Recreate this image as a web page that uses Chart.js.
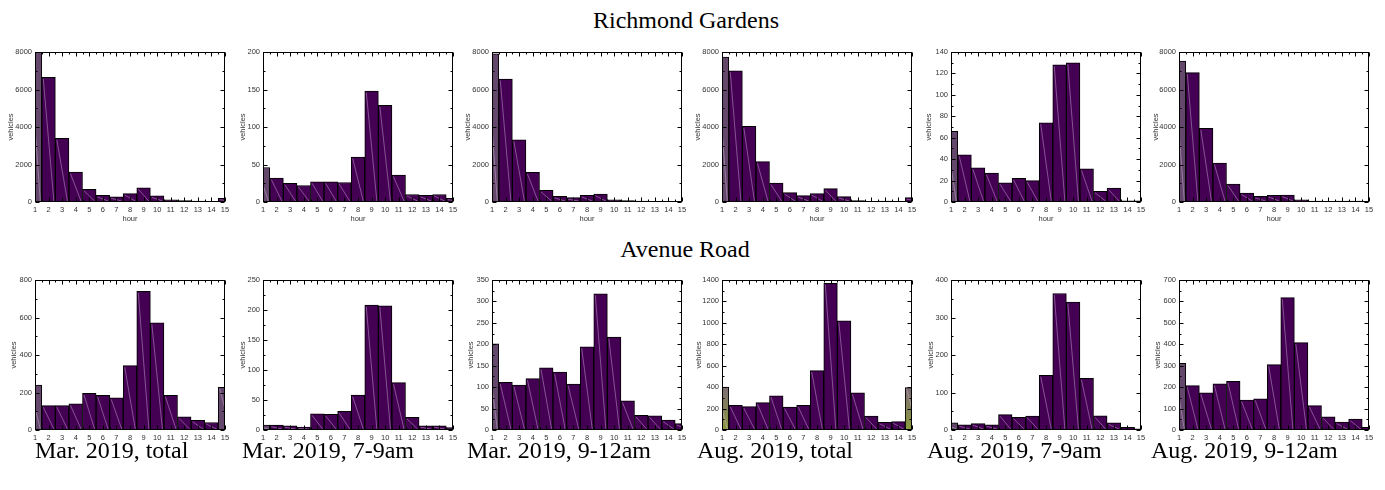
<!DOCTYPE html>
<html><head><meta charset="utf-8">
<script src="https://cdn.jsdelivr.net/npm/chart.js@4.4.0/dist/chart.umd.min.js"></script>
<style>
html,body{margin:0;padding:0;background:#fff;}
body{width:1385px;height:490px;position:relative;overflow:hidden;}
canvas{position:absolute;}
.t{position:absolute;font-family:'Liberation Serif','Times New Roman',serif;font-size:24px;color:#000;white-space:nowrap;line-height:24px;}
.c{transform:translate(-50%,-50%);}
.b{background:#fff;padding-right:4px;line-height:12px;height:12px;}
</style></head><body>
<script>
// ---------- data ----------
const hours = [1,2,3,4,5,6,7,8,9,10,11,12,13,14,15];
const rowTitles = ['Richmond Gardens', 'Avenue Road'];
const columnLabels = ['Mar. 2019, total','Mar. 2019, 7-9am','Mar. 2019, 9-12am','Aug. 2019, total','Aug. 2019, 7-9am','Aug. 2019, 9-12am'];

const rgMarTotal = [8000,6650,3400,1600,680,350,280,450,760,330,110,70,50,40,200];
const rgMar79    = [46,32,25,22,27,27,26,60,148,129,36,10,9,10,5];
const rgMar912   = [7900,6560,3320,1580,620,300,230,350,420,120,70,50,30,30,30];
const rgAugTotal = [7730,7000,4030,2150,1010,500,340,450,710,290,70,40,50,40,230];
const rgAug79    = [66,44,32,27,18,22,20,74,128,130,31,10,13,1,1];
const rgAug912   = [7520,6900,3930,2080,960,480,300,350,370,120,50,40,50,50,20];

const arMarTotal = [240,130,130,140,195,185,172,343,740,572,185,70,52,40,228];
const arMar79    = [8,8,7,5,27,26,31,58,208,207,79,21,7,7,4];
const arMar912   = [201,111,105,120,145,135,107,194,318,217,68,34,33,23,15];
const arAugTotal = [401,230,218,255,320,215,230,554,1370,1020,348,130,72,78,395];
const arAug79    = [19,14,17,14,41,34,37,146,364,341,138,38,19,7,3];
const arAug912   = [311,207,174,215,227,140,146,305,618,408,114,62,37,51,12];

// y-axis tick ranges
const yMaxRG  = [8000,200,8000,8000,140,8000];
const yStepRG = [2000,50,2000,2000,20,2000];
const yMaxAR  = [800,250,350,1400,400,700];
const yStepAR = [200,50,50,200,100,100];

// ---------- layout / style ----------
const plotLefts = [35,263,492,722,951,1179];
const plotWidth = 190;
const rowTops = [52,280];
const plotHeight = 150;
const vehiclesX = [[10,242,467,697,928,1155],[13,242,470,698,930,1157]];
const rowTitlePos = [[686,20],[685,249]];
const colLabelX = [35,242,467,697,927,1151];
const colLabelTop = 444;
const BAR = '#440154';
const EDGE = '#64486c';
const highlightRG = [[0],[0],[0],[0],[0],[0]];
const highlightAR = [[0,14],[0],[0],[0,14],[0],[0]];
const greenPanels = [[1,3]];

const tickFont = {family:"'Liberation Sans', Arial, sans-serif", size:7.5};
const tickColor = '#333';

const framePlugin = {
  id:'frame',
  afterDatasetsDraw(chart){
    const {ctx, chartArea:a, scales:{x,y}} = chart;
    ctx.save();
    ctx.beginPath(); ctx.rect(a.left,a.top,a.width,a.height); ctx.clip();
    ctx.strokeStyle='rgba(220,185,230,0.55)'; ctx.lineWidth=0.8;
    chart.getDatasetMeta(0).data.forEach(bar=>{
      const p = bar.getProps(['x','y','base','width'], true);
      if (p.base - p.y < 3) return;
      const l = p.x - p.width/2 + 1.5, r = p.x + p.width/2 - 1.5;
      ctx.beginPath(); ctx.moveTo(l, p.y+1.5); ctx.lineTo(r, p.base-1); ctx.stroke();
    });
    ctx.restore();
    ctx.save();
    ctx.strokeStyle='#000'; ctx.lineWidth=1;
    const L=Math.round(a.left)+0.5, R=Math.round(a.right)-0.5, T=Math.round(a.top)+0.5, B=Math.round(a.bottom)-0.5;
    ctx.beginPath();
    for (let v=x.min; v<=x.max+1e-9; v+=0.5){
      const px=Math.round(x.getPixelForValue(v))+0.5;
      const len = Number.isInteger(v)?4:2;
      ctx.moveTo(px,B); ctx.lineTo(px,B-len);
      ctx.moveTo(px,T); ctx.lineTo(px,T+len);
    }
    const step = chart.options.scales.y.ticks.stepSize;
    for (let i=0; i*step/2<=y.max+1e-9; i++){
      const v=i*step/2;
      const py=Math.round(y.getPixelForValue(v))+0.5;
      const len = (i%2===0)?4:2;
      ctx.moveTo(L,py); ctx.lineTo(L+len,py);
      ctx.moveTo(R,py); ctx.lineTo(R-len,py);
    }
    ctx.stroke();
    ctx.strokeRect(L,T,R-L,B-T);
    ctx.restore();
  }
};

function makePanel(row, col, values, yMax, yStep, hl, green){
  const L = plotLefts[col], T = rowTops[row];
  const W = Math.round(L - vehiclesX[row][col] + 4.2);
  const H = 21, padT = 8, padR = 10;
  const cv = document.createElement('canvas');
  cv.width = W + plotWidth + padR; cv.height = padT + plotHeight + H;
  cv.style.left = (L - W) + 'px'; cv.style.top = (T - padT) + 'px';
  cv.style.width = cv.width + 'px'; cv.style.height = cv.height + 'px';
  document.body.appendChild(cv);
  new Chart(cv, {
    type:'bar',
    data:{datasets:[{
      data: hours.map((h,i)=>({x:h, y:values[i]})),
      backgroundColor: (c)=>{
        if (!hl.includes(c.dataIndex)) return BAR;
        if (!green) return EDGE;
        const area = c.chart.chartArea;
        if (!area) return EDGE;
        const g = c.chart.ctx.createLinearGradient(0, area.bottom, 0, area.bottom - 90);
        g.addColorStop(0,'#8a9a3c'); g.addColorStop(0.5,'#7c6a78'); g.addColorStop(1,'#5a2a6a');
        return g;
      },
      borderColor:'#000', borderWidth:1, borderSkipped:false,
      barPercentage:1, categoryPercentage:1, clip:0
    }]},
    options:{
      responsive:false, animation:false, devicePixelRatio:1,
      layout:{padding:{top:padT,right:padR,left:0,bottom:0}},
      plugins:{legend:{display:false},tooltip:{enabled:false}},
      scales:{
        x:{type:'linear', min:1, max:15, offset:false,
           grid:{display:false, drawTicks:false, offset:false}, border:{display:false},
           ticks:{stepSize:1, autoSkip:false, maxRotation:0, padding:3, font:tickFont, color:tickColor, callback:(v)=>String(v)},
           title:{display:true, text:'hour', padding:0, font:tickFont, color:tickColor},
           afterFit:(s)=>{ s.height = H; }},
        y:{type:'linear', min:0, max:yMax,
           grid:{display:false, drawTicks:false}, border:{display:false},
           ticks:{stepSize:yStep, padding:3, font:tickFont, color:tickColor, callback:(v)=>String(v)},
           title:{display:true, text:'vehicles', padding:0, font:tickFont, color:tickColor},
           afterFit:(s)=>{ s.width = W; }}
      }
    },
    plugins:[framePlugin]
  });
}

const rgSeries = [rgMarTotal, rgMar79, rgMar912, rgAugTotal, rgAug79, rgAug912];
const arSeries = [arMarTotal, arMar79, arMar912, arAugTotal, arAug79, arAug912];
const isGreen = (r,c)=>greenPanels.some(p=>p[0]===r&&p[1]===c);
rgSeries.forEach((v,c)=>makePanel(0,c,v,yMaxRG[c],yStepRG[c],highlightRG[c],isGreen(0,c)));
arSeries.forEach((v,c)=>makePanel(1,c,v,yMaxAR[c],yStepAR[c],highlightAR[c],isGreen(1,c)));

rowTitles.forEach((t,i)=>{
  const d=document.createElement('div'); d.className='t c'; d.textContent=t;
  d.style.left=rowTitlePos[i][0]+'px'; d.style.top=rowTitlePos[i][1]+'px';
  document.body.appendChild(d);
});
columnLabels.forEach((t,i)=>{
  const d=document.createElement('div'); d.className='t b'; d.textContent=t;
  d.style.left=colLabelX[i]+'px'; d.style.top=colLabelTop+'px';
  document.body.appendChild(d);
});
</script>
</body></html>
